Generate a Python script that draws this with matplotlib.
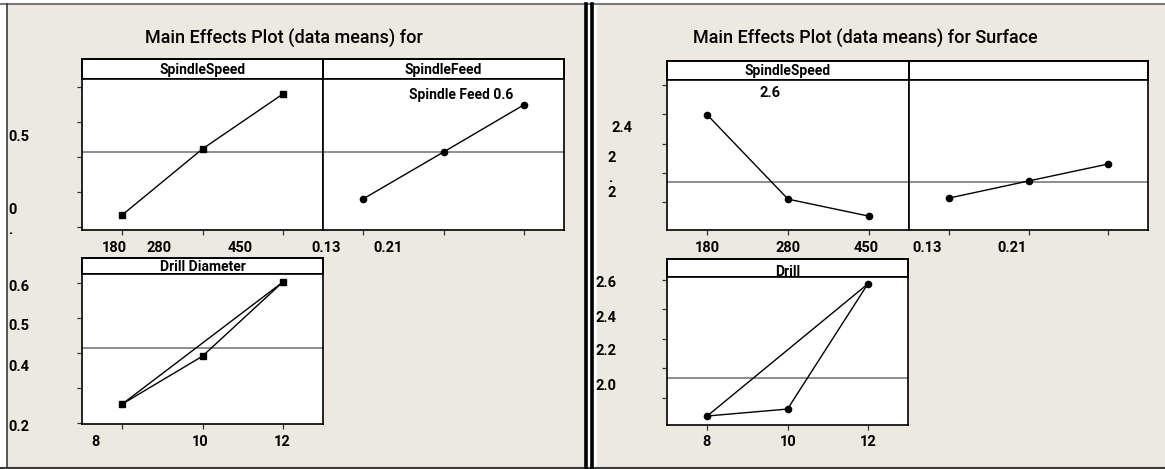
import numpy as np
import matplotlib.pyplot as plt
from matplotlib.patches import Rectangle
from matplotlib.lines import Line2D

plt.rcParams['font.family'] = ['Roboto', 'DejaVu Sans']

W, H = 1165, 469

# factor levels (positions 1..3 on each panel)
levels = [1, 2, 3]

# left chart: means per level
speed_left = [0.234, 0.423, 0.580]
feed_left = [0.280, 0.414, 0.549]
diam_left = [0.254, 0.391, 0.603]
grand_left = 0.414
yticks_left = [0.2, 0.3, 0.4, 0.5, 0.6]

# right chart: means per level
speed_right = [2.395, 1.820, 1.704]
feed_right = [1.827, 1.944, 2.060]
drill_right = [1.678, 1.725, 2.573]
grand_right = 1.935
yticks_right = [1.8, 2.0, 2.2, 2.4, 2.6]

title_left = 'Main Effects Plot (data means) for'
title_right = 'Main Effects Plot (data means) for Surface'

BG = '#ECE9E1'
MEAN = '#707070'


def fx(x):
    return x / W


def fy(y):
    return 1 - y / H


def box(x0, y0, x1, y1):
    return [fx(x0), fy(y1), (x1 - x0) / W, (y1 - y0) / H]


fig = plt.figure(figsize=(W / 100, H / 100), dpi=100, facecolor='white')

# backgrounds and frame lines
fig.patches.append(Rectangle((fx(7), fy(467)), fx(584) - fx(7), fy(4) - fy(467),
                             transform=fig.transFigure, color=BG, zorder=-10))
fig.patches.append(Rectangle((fx(597), fy(467)), 1 - fx(597), fy(4) - fy(467),
                             transform=fig.transFigure, color=BG, zorder=-10))
fig.lines.append(Line2D([0, 1], [fy(4), fy(4)], transform=fig.transFigure,
                        color='#7a7a7a', lw=1.5, zorder=-5))
fig.lines.append(Line2D([0, 1], [fy(467.5), fy(467.5)], transform=fig.transFigure,
                        color='#3a3a3a', lw=1.5, zorder=-5))
fig.lines.append(Line2D([fx(7), fx(7)], [fy(4), fy(468)], transform=fig.transFigure,
                        color='#3a3a3a', lw=1.2, zorder=-5))
for xs in (585.5, 591.5):
    fig.lines.append(Line2D([fx(xs), fx(xs)], [0, fy(4)], transform=fig.transFigure,
                            color='black', lw=2.6, zorder=-5))


def header(x0, y0, x1, y1, label, ty=0.45, va='center'):
    ax = fig.add_axes(box(x0, y0, x1, y1))
    ax.set_facecolor('white')
    ax.set_xticks([])
    ax.set_yticks([])
    for s in ax.spines.values():
        s.set_linewidth(1.4)
    ax.text(0.5, ty, label, transform=ax.transAxes,
            ha='center', va=va, fontsize=10, weight='bold')
    return ax


def panel(x0, y0, x1, y1, means, grand, ylim, yticks, marker, left_ticks, closed=False):
    ax = fig.add_axes(box(x0, y0, x1, y1))
    ax.set_facecolor('white')
    ax.plot(levels, means, color='black', lw=1.0, marker=marker, ms=4.5, zorder=3)
    if closed:
        ax.plot([levels[0], levels[-1]], [means[0], means[-1]], color='black', lw=1.0, zorder=3)
    ax.axhline(grand, color=MEAN, lw=1.1, zorder=2)
    ax.set_xlim(0.5, 3.5)
    ax.set_ylim(*ylim)
    ax.set_xticks(levels)
    ax.set_xticklabels([])
    if left_ticks:
        ax.set_yticks(yticks)
        ax.set_yticklabels([])
    else:
        ax.set_yticks([])
    ax.tick_params(direction='out', length=3.5, width=0.9, color='#333333')
    for s in ax.spines.values():
        s.set_linewidth(1.2)
    return ax


# left chart
fig.text(fx(284), fy(38), title_left, ha='center', va='center', fontsize=13, weight='medium')
header(82, 59, 323, 79, 'SpindleSpeed')
header(323, 59, 564, 79, 'SpindleFeed')
panel(82, 79, 323, 230, speed_left, grand_left, (0.191, 0.623), yticks_left, 's', True)
panel(323, 79, 564, 230, feed_left, grand_left, (0.191, 0.623), yticks_left, 'o', False)
fig.text(fx(461), fy(95), 'Spindle Feed 0.6', ha='center', va='center', fontsize=10, weight='bold')

header(82, 258, 323, 274, 'Drill Diameter')
panel(82, 274, 323, 424, diam_left, grand_left, (0.197, 0.626), yticks_left, 's', True, closed=True)

# right chart
fig.text(fx(865), fy(39), title_right, ha='center', va='center', fontsize=13, weight='medium')
header(667, 61, 909, 80, 'SpindleSpeed')
header(909, 61, 1148, 80, '')
panel(667, 80, 909, 230, speed_right, grand_right, (1.609, 2.634), yticks_right, 'o', True)
panel(909, 80, 1148, 230, feed_right, grand_right, (1.609, 2.634), yticks_right, 'o', False)
fig.text(fx(770), fy(93), '2.6', ha='center', va='center', fontsize=10.5, weight='bold')

header(667, 259, 908, 277, 'Drill', ty=0.04, va='baseline')
panel(667, 277, 908, 425, drill_right, grand_right, (1.617, 2.620), yticks_right, 'o', True, closed=True)

# axis labels as laid out on the sheet
lab = dict(fontsize=10.5, weight='bold', va='center')
left_ylabels = [('0.5', 137), ('0', 210), ('.', 230), ('0.6', 287), ('0.5', 326), ('0.4', 367), ('0.2', 427)]
for t, y in left_ylabels:
    fig.text(fx(8), fy(y), t, ha='left', **lab)

right_ylabels = [('2.4', 612, 128), ('2', 607, 158), ('.', 608, 178), ('2', 607, 193),
                 ('2.6', 595, 283), ('2.4', 595, 318), ('2.2', 595, 351), ('2.0', 595, 386)]
for t, x, y in right_ylabels:
    fig.text(fx(x), fy(y), t, ha='left', **lab)

top_xlabels = [('180', 114), ('280', 159), ('450', 240), ('0.13', 326), ('0.21', 388),
               ('180', 707), ('280', 788), ('450', 866), ('0.13', 927), ('0.21', 1012)]
for t, x in top_xlabels:
    fig.text(fx(x), fy(248), t, ha='center', **lab)

bottom_xlabels = [('8', 96), ('10', 200), ('12', 282), ('8', 707), ('10', 788), ('12', 868)]
for t, x in bottom_xlabels:
    fig.text(fx(x), fy(442), t, ha='center', **lab)

fig.savefig('out.png', dpi=100, facecolor='white')
